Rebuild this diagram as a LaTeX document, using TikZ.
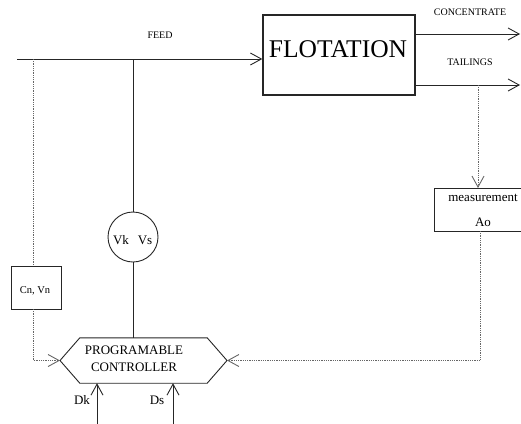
\documentclass[tikz,border=0pt]{standalone}
\usepackage{fontspec}
\setmainfont{Liberation Serif}
\usetikzlibrary{arrows.meta}
\begin{document}
\begin{tikzpicture}[x=1pt,y=-1pt,
  line/.style={draw=black!85, line width=0.9pt},
  dotl/.style={draw=black!60, line width=0.9pt, dash pattern=on 0.9pt off 0.9pt},
  open/.style={-{Straight Barb[length=11pt,width=12pt,line width=0.9pt]}},
  box/.style={draw=black!85, line width=0.9pt, inner sep=0pt},
  lab/.style={inner sep=0pt, font=\fontsize{10}{12}\selectfont},
  txt/.style={inner sep=0pt, font=\fontsize{13}{17}\selectfont},
]
\clip (0,0) rectangle (521,423);
% nodes
\node[box, line width=1.4pt, minimum width=152pt, minimum height=80pt] (flot) at (339,55) {};
\node[inner sep=0pt, font=\fontsize{25.5}{26}\selectfont] (flottxt) at (338,49.5) {FLOTATION};
\node[lab] (feedlab) at (160,35) {FEED};
\node[lab] (conclab) at (470,12) {CONCENTRATE};
\node[lab] (taillab) at (470,62) {TAILINGS};
\node[box, anchor=north west, minimum width=100pt, minimum height=43pt] (meas) at (434,188) {};
\node[txt] (meastxt) at (483,198) {measurement};
\node[txt] (aotxt) at (483,222) {Ao};
\node[box, circle, minimum size=50pt] (valve) at (133,237) {};
\node[txt] (vk) at (121,240) {Vk};
\node[txt] (vs) at (145,240) {Vs};
\node[box, minimum width=50pt, minimum height=43pt] (cn) at (36,287.5) {};
\node[lab, font=\fontsize{10.5}{12}\selectfont] (cntxt) at (35,291) {Cn, Vn};
\node[inner sep=0pt, minimum width=127pt, minimum height=45pt] (ctrl) at (143.5,360.5) {};
\node[txt, align=center] (ctrltxt) at (134,358.5) {PROGRAMABLE\\CONTROLLER};
\node[txt] (dk) at (82,400) {Dk};
\node[txt] (ds) at (157,400) {Ds};
% hexagon outline
\coordinate (ctrlL) at (60,360.5);
\coordinate (ctrlR) at (227,360.5);
\draw[line] (ctrlL) -- (ctrl.north west) -- (ctrl.north east) -- (ctrlR) -- (ctrl.south east) -- (ctrl.south west) -- cycle;
% coordinates
\coordinate (feedS) at (17,59);
\coordinate (fj) at (33,59);
\coordinate (vj) at (133,59);
\coordinate (concE) at (520,34);
\coordinate (tailE) at (520,85);
\coordinate (tap) at (478,85);
\coordinate (mdrop) at (480,231);
\coordinate (cnS) at (33,309);
\coordinate (dkS) at (97,425);
\coordinate (dsS) at (173,425);
% connectors
\draw[line, open] (feedS) -- (flot.west |- feedS);
\draw[line, open] (flot.east |- concE) -- (concE);
\draw[line, open] (flot.east |- tailE) -- (tailE);
\draw[dotl, open] (tap) -- (tap |- meas.north);
\draw[dotl] (fj) -- (fj |- cn.north);
\draw[dotl, open] (cnS) |- (ctrlL);
\draw[dotl, open] (mdrop) |- (ctrlR);
\draw[line] (vj) -- (valve.north);
\draw[line] (valve.south) -- (valve.south |- ctrl.north);
\draw[line, open] (dkS) -- (dkS |- ctrl.south);
\draw[line, open] (dsS) -- (dsS |- ctrl.south);
\end{tikzpicture}
\end{document}
